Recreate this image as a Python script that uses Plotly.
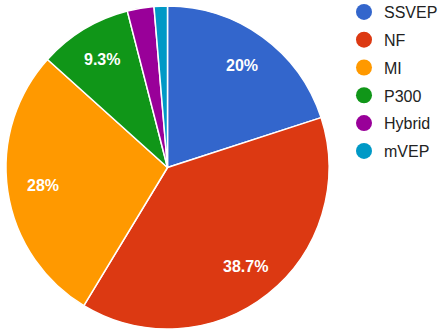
import math
import plotly.graph_objects as go

labels = ["SSVEP", "NF", "MI", "P300", "Hybrid", "mVEP"]
counts = [15, 29, 21, 7, 2, 1]
colors = ["#3366cc", "#dc3912", "#ff9900", "#109618", "#990099", "#0099c6"]

W, H = 441, 335
cx, cy, R = 167.5, 167.5, 161.5
label_r = 0.78

total = sum(counts)

fig = go.Figure()
fig.add_trace(go.Pie(
    labels=labels, values=counts, textinfo="none",
    sort=False, direction="clockwise", rotation=0,
    marker=dict(colors=colors, line=dict(color="white", width=1.5)),
    domain=dict(x=[(cx - R) / W, (cx + R) / W], y=[1 - (cy + R) / H, 1 - (cy - R) / H]),
    showlegend=False, hoverinfo="label+percent",
))

# percentage labels placed like the original (Google-style, at ~78% radius)
cum = 0
for lab, c in zip(labels, counts):
    frac = c / total
    mid = (cum + frac / 2) * 2 * math.pi
    cum += frac
    p = round(frac * 100, 1)
    if p < 5:
        continue
    px = cx + label_r * R * math.sin(mid)
    py = cy - label_r * R * math.cos(mid)
    fig.add_annotation(
        x=px / W, y=1 - py / H, xref="paper", yref="paper",
        text=f"<b>{p:g}%</b>", showarrow=False,
        font=dict(color="white", size=16, family="Liberation Sans, Arial"),
        xanchor="center", yanchor="middle",
    )

for lab, col in zip(labels, colors):
    fig.add_trace(go.Scatter(
        x=[None], y=[None], mode="markers", name=lab, legendgroup=lab,
        marker=dict(color=col, size=16, symbol="circle"),
    ))

fig.update_layout(
    width=W, height=H, margin=dict(l=0, r=0, t=0, b=0, autoexpand=False),
    paper_bgcolor="white", plot_bgcolor="white",
    xaxis=dict(visible=False), yaxis=dict(visible=False),
    legend=dict(x=344 / W, y=1.015, xanchor="left", yanchor="top",
                font=dict(size=16, color="#222222", family="Liberation Sans, Arial"),
                itemsizing="trace", tracegroupgap=4, bgcolor="rgba(0,0,0,0)"),
)
fig.write_html("out.html")
